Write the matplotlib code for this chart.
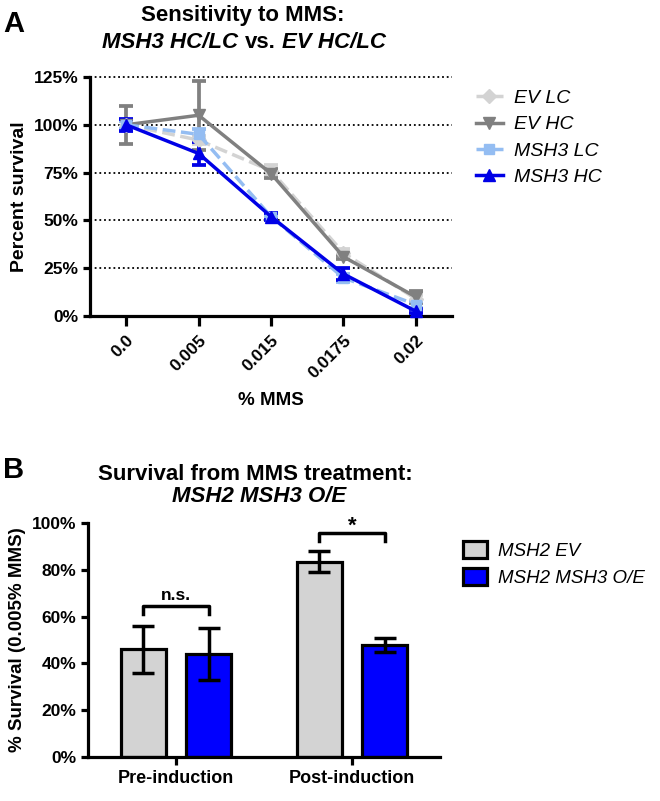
import matplotlib
matplotlib.use("Agg")
import matplotlib.pyplot as plt
from matplotlib.lines import Line2D
import numpy as np

plt.rcParams['font.family'] = ['Liberation Sans', 'DejaVu Sans']

# panel A: survival vs %MMS
mms = ['0.0', '0.005', '0.015', '0.0175', '0.02']
ev_lc = [100, 92, 76, 33, 9]
ev_lc_err = [2, 2, 3, 2, 2]
ev_hc = [100, 105, 74.5, 31, 10]
ev_hc_err = [10, 18, 2.5, 1, 3]
msh3_lc = [100, 95, 52, 20, 6]
msh3_lc_err = [2, 3, 1, 2, 2]
msh3_hc = [100, 85, 52, 22, 2.5]
msh3_hc_err = [3, 6, 2, 3, 1]

# panel B: survival at 0.005% MMS
groups = ['Pre-induction', 'Post-induction']
ev_bar = [46, 83.5]
ev_bar_err = [10, 4.5]
oe_bar = [44, 48]
oe_bar_err = [11, 3]

fig = plt.figure(figsize=(6.6, 8.01), dpi=100)
W, H = 660, 801


def ax_rect(x0, y0, x1, y1):
    # pixel box -> figure fraction
    return [x0 / W, 1 - y1 / H, (x1 - x0) / W, (y1 - y0) / H]


def mixed_text(xc, yc, parts, size):
    # draw bold text chunks (some italic) centred on xc
    r = fig.canvas.get_renderer()
    gap = 0.278 * size * 100 / 72
    txts, widths = [], []
    for s, st in parts:
        t = fig.text(0, 1 - yc / H, s, fontsize=size, fontweight='bold',
                     fontstyle=st, va='center', ha='left')
        txts.append(t)
        widths.append(t.get_window_extent(r).width)
    total = sum(widths) + gap * (len(parts) - 1)
    x = xc - total / 2
    for t, w in zip(txts, widths):
        t.set_x(x / W)
        x += w + gap


def style_axes(ax):
    for s in ['top', 'right']:
        ax.spines[s].set_visible(False)
    for s in ['left', 'bottom']:
        ax.spines[s].set_linewidth(2.3)
    ax.tick_params(width=2.3, length=5, labelsize=12.5)
    for lab in ax.get_xticklabels() + ax.get_yticklabels():
        lab.set_fontweight('bold')


# ---------- A ----------
axA = fig.add_axes(ax_rect(90, 77, 452, 316))
x = np.arange(len(mms))
series = [
    ('EV LC', ev_lc, ev_lc_err, '#d3d3d3', 'D', '--', 7),
    ('EV HC', ev_hc, ev_hc_err, '#808080', 'v', '-', 9),
    ('MSH3 LC', msh3_lc, msh3_lc_err, '#94bdf2', 's', '--', 7.5),
    ('MSH3 HC', msh3_hc, msh3_hc_err, '#0000e6', '^', '-', 9),
]
handles = []
for name, vals, err, c, m, ls, ms in series:
    axA.errorbar(x, vals, yerr=err, color=c, marker=m, ms=ms, ls=ls, lw=2.5,
                 elinewidth=2.7, capsize=5, capthick=2.7,
                 clip_on=False, zorder=3)
    handles.append(Line2D([], [], color=c, marker=m, ms=ms, ls=ls, lw=2.5, label=name))
axA.set_xlim(-0.5, 4.5)
axA.set_ylim(0, 125)
axA.set_yticks([0, 25, 50, 75, 100, 125])
axA.set_yticklabels(['0%', '25%', '50%', '75%', '100%', '125%'])
axA.set_xticks(x)
axA.set_xticklabels(mms, rotation=45, ha='right', rotation_mode='anchor')
for yv in [25, 50, 75, 100, 125]:
    axA.axhline(yv, color='black', lw=1.3, ls=(0, (1, 1.6)), zorder=1, clip_on=False)
style_axes(axA)
axA.tick_params(axis='x', length=7, pad=5)
axA.set_ylabel('Percent survival', fontsize=14, fontweight='bold', labelpad=4)
axA.set_xlabel('% MMS', fontsize=13.5, fontweight='bold', labelpad=8)
axA.legend(handles=handles, loc='upper left', bbox_to_anchor=(458 / W, 1 - 72 / H),
           bbox_transform=fig.transFigure, frameon=False,
           prop={'style': 'italic', 'size': 14}, handlelength=1.4,
           labelspacing=0.45, handletextpad=0.6)
fig.text(14 / W, 1 - 24 / H, 'A', fontsize=21, fontweight='bold', ha='center', va='center')
mixed_text(243, 16, [('Sensitivity to MMS:', 'normal')], 16)
mixed_text(244, 43, [('MSH3 HC/LC', 'italic'), ('vs.', 'normal'), ('EV HC/LC', 'italic')], 16)

# ---------- B ----------
axB = fig.add_axes(ax_rect(88, 523, 440, 757))
xb = np.arange(len(groups))
bw = 0.257
off = 0.186
axB.bar(xb - off, ev_bar, bw, color='#d3d3d3', edgecolor='black', lw=2.3,
        label='MSH2 EV', zorder=2)
axB.bar(xb + off, oe_bar, bw, color='#0000ff', edgecolor='black', lw=2.3,
        label='MSH2 MSH3 O/E', zorder=2)
axB.errorbar(xb - off, ev_bar, yerr=ev_bar_err, fmt='none', ecolor='black',
             elinewidth=2.5, capsize=8, capthick=2.5, zorder=3)
axB.errorbar(xb + off, oe_bar, yerr=oe_bar_err, fmt='none', ecolor='black',
             elinewidth=2.5, capsize=8, capthick=2.5, zorder=3)
axB.set_xlim(-0.5, 1.5)
axB.set_ylim(0, 100)
axB.set_yticks([0, 20, 40, 60, 80, 100])
axB.set_yticklabels(['0%', '20%', '40%', '60%', '80%', '100%'])
axB.set_xticks(xb)
axB.set_xticklabels(groups)
style_axes(axB)
axB.tick_params(axis='x', labelsize=13, length=6)
axB.set_ylabel('% Survival (0.005% MMS)', fontsize=13.5, fontweight='bold', labelpad=4)

# significance brackets
for gi, yb, lab, fs, dy in [(0, 64.5, 'n.s.', 12.5, 4.5), (1, 95.7, '*', 16, 3)]:
    x0, x1 = xb[gi] - off, xb[gi] + off
    axB.plot([x0, x0, x1, x1], [yb - 3.5, yb, yb, yb - 3.5], color='black',
             lw=2.5, clip_on=False, zorder=4)
    axB.text((x0 + x1) / 2, yb + dy, lab, fontsize=fs, fontweight='bold',
             ha='center', va='center', clip_on=False)

axB.legend(loc='upper left', bbox_to_anchor=(446 / W, 1 - 524 / H),
           bbox_transform=fig.transFigure, frameon=False,
           prop={'style': 'italic', 'size': 13.5}, handlelength=1.3,
           handleheight=1.0, labelspacing=0.45, handletextpad=0.6)
fig.text(14 / W, 1 - 470 / H, 'B', fontsize=21, fontweight='bold', ha='center', va='center')
mixed_text(255, 475, [('Survival from MMS treatment:', 'normal')], 16)
mixed_text(259, 497, [('MSH2 MSH3 O/E', 'italic')], 16)

fig.savefig('out.png', dpi=100)
